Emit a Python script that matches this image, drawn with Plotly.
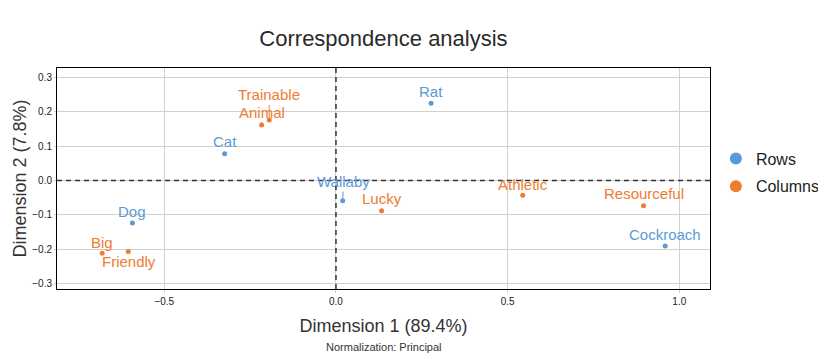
import plotly.graph_objects as go

# ---- data ----
row_labels = ["Cat", "Dog", "Rat", "Wallaby", "Cockroach"]
row_x = [-0.3245, -0.593, 0.277, 0.0195, 0.959]
row_y = [0.0779, -0.124, 0.2253, -0.0586, -0.191]

col_labels = ["Big", "Friendly", "Trainable", "Animal", "Lucky", "Athletic", "Resourceful"]
col_x = [-0.681, -0.605, -0.1944, -0.2167, 0.133, 0.544, 0.896]
col_y = [-0.212, -0.207, 0.1765, 0.1618, -0.0878, -0.043, -0.0732]

x_ticks = [-0.5, 0.0, 0.5, 1.0]
y_ticks = [-0.3, -0.2, -0.1, 0.0, 0.1, 0.2, 0.3]

BLUE = "#5B9BD5"
ORANGE = "#ED7D31"
FONT = "Arial, Liberation Sans, sans-serif"

# label offsets (pixels): (dx, dy, connector)
row_off = {"Cat": (0, -12, False), "Dog": (0, -12, False), "Rat": (0, -12, False),
           "Wallaby": (1, -19, True), "Cockroach": (0, -12, False)}
col_off = {"Big": (0, -11, False), "Friendly": (1, 10, False), "Trainable": (0, -25, True),
           "Animal": (0, -13, True), "Lucky": (0, -12, False), "Athletic": (0, -11, False),
           "Resourceful": (0, -12, False)}

fig = go.Figure()
fig.add_trace(go.Scatter(x=row_x, y=row_y, mode="markers", name="Rows",
                         marker=dict(color=BLUE, size=5), showlegend=False, hoverinfo="text",
                         text=row_labels))
fig.add_trace(go.Scatter(x=col_x, y=col_y, mode="markers", name="Columns",
                         marker=dict(color=ORANGE, size=5), showlegend=False, hoverinfo="text",
                         text=col_labels))
# legend-only traces with larger symbols
fig.add_trace(go.Scatter(x=[None], y=[None], mode="markers", name="Rows", legendgroup="r",
                         marker=dict(color=BLUE, size=12)))
fig.add_trace(go.Scatter(x=[None], y=[None], mode="markers", name="Columns", legendgroup="c",
                         marker=dict(color=ORANGE, size=12)))

annotations = []
for labels, xs, ys, offs, color in [(row_labels, row_x, row_y, row_off, BLUE),
                                    (col_labels, col_x, col_y, col_off, ORANGE)]:
    for lab, xv, yv in zip(labels, xs, ys):
        dx, dy, conn = offs[lab]
        if conn:
            annotations.append(dict(x=xv, y=yv, xref="x", yref="y", text=lab,
                                    showarrow=True, arrowhead=0, arrowwidth=1,
                                    arrowcolor=color, ax=dx, ay=dy, standoff=0,
                                    font=dict(size=15, color=color, family=FONT)))
        else:
            annotations.append(dict(x=xv, y=yv, xref="x", yref="y", text=lab,
                                    showarrow=False, xshift=dx, yshift=-dy,
                                    font=dict(size=15, color=color, family=FONT)))

annotations.append(dict(text="Normalization: Principal", xref="paper", yref="paper",
                        x=0.5, y=-0.261, xanchor="center", yanchor="middle",
                        showarrow=False, font=dict(size=11, color="#333333", family=FONT)))

shapes = [
    dict(type="line", xref="x", yref="paper", x0=0, x1=0, y0=0, y1=1,
         line=dict(color="#333333", width=1.5, dash="5px,4px"), layer="above"),
    dict(type="line", xref="paper", yref="y", x0=0, x1=1, y0=0, y1=0,
         line=dict(color="#333333", width=1.5, dash="5px,4px"), layer="above"),
]

# page body has an 8px default margin, so the figure is 8px smaller each way
fig.update_layout(
    width=818, height=348,
    margin=dict(l=49, r=116, t=60, b=67, autoexpand=False),
    paper_bgcolor="white", plot_bgcolor="white",
    font=dict(family=FONT, color="#222222"),
    title=dict(text="Correspondence analysis", x=0.5, xref="paper", y=1 - 30 / 348,
               yanchor="middle", font=dict(size=22, color="#2a2a2a", family=FONT)),
    legend=dict(x=1.009, y=0.527, xanchor="left", yanchor="middle",
                traceorder="grouped", tracegroupgap=4,
                font=dict(size=16, color="#222222", family=FONT)),
    annotations=annotations,
    shapes=shapes,
    xaxis=dict(range=[-0.8126, 1.0895], tickvals=x_ticks, tickformat=".1f",
               showgrid=True, gridcolor="#d0d0d0", zeroline=False, automargin=False,
               showline=True, linecolor="black", linewidth=1, mirror=True,
               ticks="outside", ticklen=3, tickcolor="#cccccc",
               tickfont=dict(size=10, color="#222222"),
               title=dict(text="Dimension 1 (89.4%)", standoff=13,
                          font=dict(size=18, color="#333333"))),
    yaxis=dict(range=[-0.316, 0.328], tickvals=y_ticks, tickformat=".1f",
               showgrid=True, gridcolor="#d0d0d0", zeroline=False, automargin=False,
               showline=True, linecolor="black", linewidth=1, mirror=True,
               ticks="outside", ticklen=2, tickcolor="#cccccc",
               tickfont=dict(size=10, color="#222222"),
               title=dict(text="Dimension 2 (7.8%)", standoff=0,
                          font=dict(size=18, color="#333333"))),
)

fig.write_html("out.html")
